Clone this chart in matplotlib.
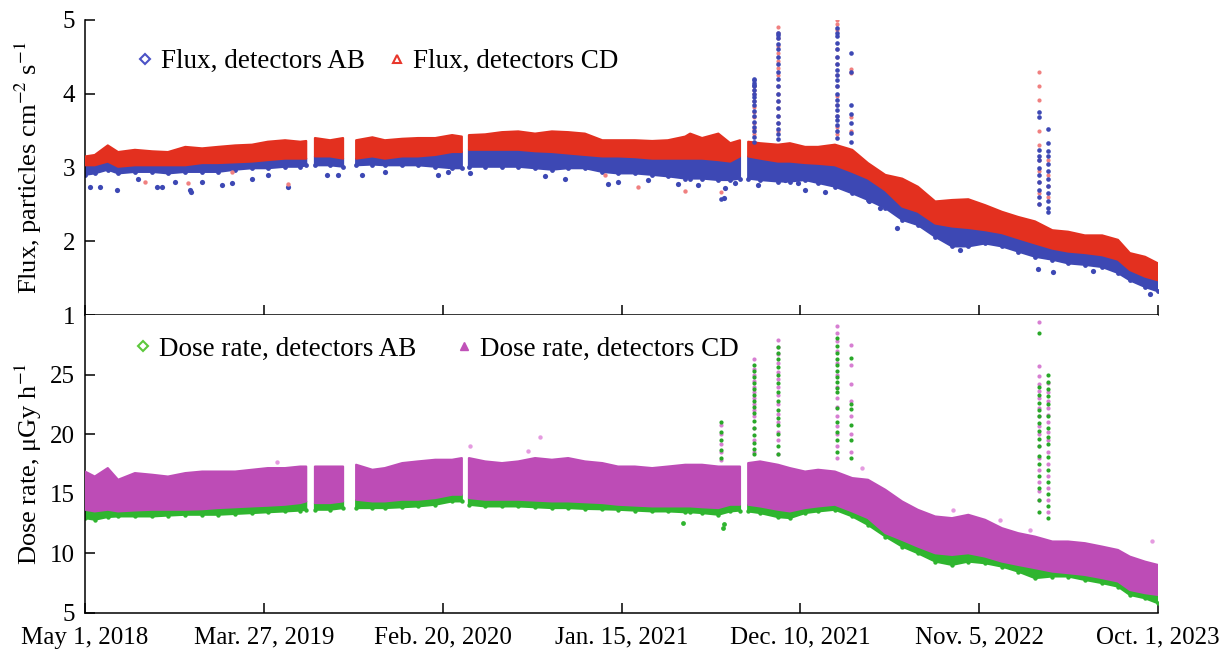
import numpy as np
import pandas as pd
import matplotlib
matplotlib.use('Agg')
import matplotlib.pyplot as plt
from matplotlib.lines import Line2D

plt.rcParams['font.family'] = ['Liberation Serif', 'DejaVu Serif']
plt.rcParams['mathtext.fontset'] = 'stix'

nan = np.nan
start = pd.Timestamp('2018-05-01')

# sample days since May 1, 2018 (nan rows = data gaps)
days = [0, 18, 42, 61, 92, 124, 153, 185, 216, 245,
        277, 308, 337, 369, 397, 408, 415, 424, 452, 476,
        487, 500, 530, 553, 585, 614, 646, 677, 695, 701,
        708, 738, 769, 799, 830, 861, 891, 922, 954, 983,
        1014, 1046, 1075, 1107, 1116, 1138, 1168, 1190, 1208, 1215,
        1223, 1245, 1278, 1300, 1328, 1352, 1383, 1415, 1444, 1476,
        1507, 1536, 1568, 1599, 1629, 1660, 1691, 1721, 1752, 1784,
        1813, 1844, 1876, 1905, 1927, 1955, 1979]

# flux, detectors CD: upper / lower envelope of the band
flux_cd_hi = [3.15, 3.17, 3.30, 3.21, 3.24, 3.22, 3.21, 3.28, 3.26, 3.28,
              3.30, 3.31, 3.35, 3.37, 3.35, 3.36, nan, 3.40, 3.37, 3.40,
              nan, 3.37, 3.41, 3.37, 3.39, 3.40, 3.40, 3.44, 3.42, nan,
              3.44, 3.45, 3.48, 3.49, 3.46, 3.49, 3.48, 3.46, 3.37, 3.37,
              3.37, 3.36, 3.37, 3.42, 3.46, 3.40, 3.46, 3.33, 3.37, nan,
              3.35, 3.33, 3.31, 3.33, 3.28, 3.28, 3.31, 3.24, 3.06, 2.90,
              2.85, 2.74, 2.54, 2.56, 2.57, 2.49, 2.40, 2.33, 2.27, 2.15,
              2.13, 2.08, 2.08, 2.02, 1.84, 1.79, 1.70]
flux_cd_lo = [3.03, 3.03, 3.08, 3.01, 3.03, 3.03, 3.03, 3.03, 3.06, 3.06,
              3.07, 3.08, 3.10, 3.12, 3.12, 3.12, nan, 3.15, 3.15, 3.12,
              nan, 3.12, 3.15, 3.12, 3.15, 3.15, 3.17, 3.21, 3.21, nan,
              3.24, 3.24, 3.24, 3.24, 3.22, 3.21, 3.19, 3.17, 3.15, 3.15,
              3.14, 3.12, 3.12, 3.12, 3.12, 3.12, 3.10, 3.08, 3.15, nan,
              3.15, 3.12, 3.08, 3.08, 3.06, 3.05, 3.03, 2.94, 2.85, 2.69,
              2.47, 2.40, 2.24, 2.20, 2.18, 2.15, 2.11, 2.04, 1.97, 1.90,
              1.86, 1.84, 1.81, 1.75, 1.61, 1.52, 1.47]
# flux, detectors AB: lower envelope of the dense band
flux_ab_lo = [2.90, 2.92, 2.97, 2.92, 2.94, 2.94, 2.92, 2.94, 2.94, 2.94,
              2.97, 2.99, 2.99, 3.01, 3.01, 3.03, nan, 3.03, 3.03, 3.01,
              nan, 3.03, 3.04, 3.03, 3.03, 3.03, 3.01, 2.99, 2.99, nan,
              3.01, 3.01, 3.01, 3.01, 2.99, 2.97, 2.99, 2.99, 2.94, 2.92,
              2.92, 2.90, 2.88, 2.85, 2.85, 2.85, 2.83, 2.83, 2.85, nan,
              2.85, 2.83, 2.81, 2.81, 2.83, 2.79, 2.74, 2.65, 2.56, 2.45,
              2.29, 2.22, 2.06, 1.93, 1.93, 1.97, 1.93, 1.86, 1.79, 1.75,
              1.70, 1.68, 1.65, 1.57, 1.47, 1.38, 1.32]

# dose rate, detectors CD (upper / lower) and AB (lower)
dose_cd_hi = [16.87, 16.45, 17.16, 16.18, 16.74, 16.60, 16.45, 16.74, 16.87, 16.87,
              16.87, 17.02, 17.16, 17.16, 17.29, 17.29, nan, 17.29, 17.29, 17.29,
              nan, 17.44, 17.02, 17.16, 17.58, 17.72, 17.86, 17.86, 18.00, nan,
              18.00, 17.72, 17.58, 17.72, 18.00, 17.86, 18.00, 17.72, 17.58, 17.29,
              17.29, 17.16, 17.29, 17.44, 17.44, 17.44, 17.29, 17.29, 17.29, nan,
              17.58, 17.72, 17.44, 17.16, 16.87, 17.02, 16.87, 16.32, 16.18, 15.34,
              14.36, 13.66, 13.10, 12.96, 13.24, 12.82, 12.12, 11.70, 11.41, 11.00,
              11.00, 10.86, 10.57, 10.29, 9.73, 9.31, 9.03]
dose_cd_lo = [13.66, 13.52, 13.66, 13.52, 13.60, 13.66, 13.66, 13.66, 13.70, 13.80,
              13.87, 13.94, 14.00, 14.08, 14.22, 14.36, nan, 14.22, 14.22, 14.36,
              nan, 14.50, 14.36, 14.36, 14.50, 14.50, 14.64, 14.92, 14.92, nan,
              14.64, 14.50, 14.50, 14.50, 14.43, 14.36, 14.36, 14.29, 14.22, 14.08,
              14.01, 13.94, 13.94, 13.94, 13.94, 13.87, 13.80, 14.08, 14.08, nan,
              14.08, 13.94, 13.66, 13.52, 13.80, 13.94, 14.08, 13.52, 12.96, 11.70,
              11.13, 10.57, 10.01, 9.87, 10.01, 9.73, 9.31, 9.03, 8.76, 8.47,
              8.34, 8.19, 7.92, 7.64, 6.93, 6.66, 6.51]
dose_ab_lo = [12.96, 12.82, 13.05, 13.10, 13.10, 13.10, 13.17, 13.24, 13.24, 13.24,
              13.31, 13.38, 13.45, 13.52, 13.59, 13.66, nan, 13.66, 13.66, 13.80,
              nan, 13.80, 13.80, 13.80, 13.87, 13.94, 14.08, 14.36, 14.36, nan,
              14.08, 13.94, 13.94, 13.94, 13.87, 13.80, 13.80, 13.73, 13.70, 13.66,
              13.59, 13.52, 13.52, 13.45, 13.45, 13.38, 13.24, 13.52, 13.59, nan,
              13.52, 13.38, 13.04, 12.96, 13.38, 13.52, 13.66, 13.10, 12.39, 11.41,
              10.57, 10.01, 9.31, 9.03, 9.31, 9.17, 8.89, 8.47, 7.92, 8.06,
              8.06, 7.77, 7.50, 7.21, 6.51, 6.23, 5.81]

# scattered single readings below / above the bands
flux_ab_out_days = [9, 28, 59, 98, 133, 142, 166, 194, 196, 216,
                    253, 271, 308, 338, 374, 446, 467, 511, 553, 651,
                    669, 710, 848, 885, 965, 983, 1038, 1094, 1131, 1179,
                    1181, 1199, 1241, 1291, 1315, 1328, 1365, 1445, 1466, 1498,
                    1614, 1758, 1785, 1859, 1964]
flux_ab_out_vals = [2.73, 2.73, 2.69, 2.85, 2.74, 2.74, 2.81, 2.69, 2.67, 2.81,
                    2.76, 2.79, 2.85, 2.90, 2.74, 2.90, 2.90, 2.90, 2.94, 2.90,
                    2.94, 2.92, 2.88, 2.85, 2.77, 2.81, 2.83, 2.77, 2.76, 2.58,
                    2.72, 2.79, 2.76, 2.83, 2.79, 2.70, 2.67, 2.54, 2.45, 2.18,
                    1.88, 1.63, 1.59, 1.60, 1.29]
flux_cd_out_days = [111, 190, 271, 374, 959, 1020, 1107]
flux_cd_out_vals = [2.81, 2.79, 2.94, 2.77, 2.90, 2.74, 2.68]
dose_cd_out_days = [354, 710, 817, 839, 1433, 1601, 1688, 1743, 1968]
dose_cd_out_vals = [17.7, 19.0, 18.55, 19.8, 17.16, 13.66, 12.8, 12.0, 11.0]
dose_ab_out_days = [1103, 1177, 1179]
dose_ab_out_vals = [12.56, 12.1, 12.5]

# solar particle events: dots along each spike
spike_days = [1173, 1234, 1278, 1387, 1413, 1760, 1776]
flux_ab_spikes = [[2.57],
                  [3.35, 3.42, 3.5, 3.55, 3.62, 3.7, 3.76, 3.85, 3.9, 3.95, 4.0,
                   4.05, 4.1, 4.12, 4.15, 4.18, 4.2],
                  [4.83, 4.8, 4.75, 4.68, 4.6, 4.5, 4.4, 4.3, 4.2, 4.1, 4.0, 3.9,
                   3.8, 3.7, 3.6, 3.52, 3.45, 3.38],
                  [4.89, 4.82, 4.78, 4.69, 4.6, 4.5, 4.41, 4.32, 4.25, 4.19, 4.1,
                   4.0, 3.92, 3.85, 3.78, 3.7, 3.64, 3.57, 3.5, 3.4],
                  [4.55, 4.3, 3.85, 3.72, 3.6, 3.47, 3.35],
                  [3.75, 3.68, 3.24, 3.15, 3.1, 3.0, 2.9, 2.8, 2.7, 2.6, 2.5],
                  [3.52, 3.33, 3.22, 3.15, 3.05, 2.95, 2.85, 2.75, 2.65, 2.55, 2.45, 2.4]]
flux_cd_spikes = [[2.67],
                  [3.45, 3.52, 3.6, 3.68, 3.75, 3.82, 3.9, 4.0, 4.05, 4.1],
                  [4.9, 4.83, 4.75, 4.65, 4.55, 4.45, 4.35, 4.25, 4.1, 4.0, 3.9,
                   3.8, 3.7, 3.6, 3.5],
                  [5.0, 4.95, 4.87, 4.6, 4.5, 4.4, 4.25, 4.1, 3.97, 3.85, 3.7,
                   3.55, 3.45],
                  [4.33, 4.28, 3.68, 3.5],
                  [4.3, 4.1, 3.92, 3.5, 3.3, 3.1, 2.95, 2.8, 2.65, 2.5],
                  [3.1, 2.9, 2.75, 2.6]]
dose_ab_spikes = [[21.0, 20.2, 19.5, 18.7, 18.0],
                  [25.8, 25.3, 24.8, 24.3, 23.8, 23.3, 22.8, 22.3, 21.8, 21.1,
                   20.5, 19.9, 19.3, 18.8, 18.3],
                  [27.3, 26.8, 26.3, 25.6, 25.0, 24.3, 23.5, 22.8, 22.0, 21.4,
                   20.8, 20.0, 19.0, 18.3],
                  [28.1, 27.4, 26.8, 26.3, 25.8, 25.3, 24.8, 24.4, 23.9, 23.5,
                   22.2, 21.0, 20.2, 19.5, 18.5],
                  [26.4, 22.5, 22.1, 20.8, 19.5, 18.0],
                  [28.5, 24.0, 23.3, 22.6, 22.0, 21.5, 20.9, 20.3, 19.6, 19.0,
                   18.2, 17.5, 16.5, 15.5, 14.5, 13.5],
                  [25.0, 24.4, 23.8, 23.2, 22.5, 21.5, 20.5, 19.8, 19.2, 18.1,
                   17.0, 16.0, 15.0, 14.0, 13.0]]
dose_cd_spikes = [[20.8, 20.0, 19.2, 18.5, 17.8],
                  [26.3, 25.5, 25.0, 24.5, 24.0, 23.5, 23.0, 22.5, 22.0, 21.5,
                   20.5, 19.5, 18.5],
                  [27.9, 27.3, 26.7, 26.0, 25.2, 24.6, 24.0, 23.3, 22.5, 21.7,
                   21.0, 20.2, 19.5, 18.3],
                  [29.1, 28.5, 27.8, 27.0, 26.0, 25.0, 24.0, 23.0, 22.3, 21.5,
                   20.7, 20.0, 19.0, 18.0],
                  [27.5, 25.8, 24.2, 22.8, 21.5, 20.0, 18.5],
                  [29.4, 25.7, 24.9, 24.2, 23.6, 23.0, 22.2, 21.5, 20.7, 20.0,
                   19.0, 18.0, 17.0, 16.0, 15.2, 14.5],
                  [24.3, 23.5, 22.8, 22.2, 21.6, 21.0, 20.2, 19.5, 18.5, 17.5,
                   16.5, 15.5, 14.5, 13.5]]

tick_dates = ['2018-05-01', '2019-03-27', '2020-02-20', '2021-01-15',
              '2021-12-10', '2022-11-05', '2023-10-01']
tick_labels = ['May 1, 2018', 'Mar. 27, 2019', 'Feb. 20, 2020', 'Jan. 15, 2021',
               'Dec. 10, 2021', 'Nov. 5, 2022', 'Oct. 1, 2023']

BLUE = '#3d48b4'
RED = '#e3301f'
PINK = '#f08080'
GREEN = '#2fb52f'
MAGENTA = '#bd4cb6'


def to_dates(d):
    return start + pd.to_timedelta(np.asarray(d, dtype=float), unit='D')


def draw_spikes(ax, sp_days, sp_vals, color, size):
    for d, vals in zip(sp_days, sp_vals):
        ax.scatter(to_dates([d] * len(vals)), vals, s=size, color=color,
                   linewidths=0, zorder=5)


x = to_dates(days)

fig = plt.figure(figsize=(12.32, 6.49), dpi=100)
ax1 = fig.add_axes([0.069, 0.5146, 0.871, 0.4546])
ax2 = fig.add_axes([0.069, 0.0555, 0.871, 0.4591])

# --- flux panel ---
ax1.fill_between(x, flux_ab_lo, flux_cd_lo, color=BLUE, lw=1.5, zorder=2)
ax1.scatter(x, flux_ab_lo, s=12, color=BLUE, linewidths=0, zorder=2)
ax1.scatter(to_dates(flux_ab_out_days), flux_ab_out_vals, s=14, color=BLUE,
            linewidths=0, zorder=2)
ax1.fill_between(x, flux_cd_lo, flux_cd_hi, color=RED, lw=1.5, zorder=3)
ax1.scatter(to_dates(flux_cd_out_days), flux_cd_out_vals, s=10, color=PINK,
            linewidths=0, zorder=3)
draw_spikes(ax1, spike_days, flux_cd_spikes, PINK, 9)
draw_spikes(ax1, spike_days, flux_ab_spikes, BLUE, 11)

# --- dose panel ---
ax2.fill_between(x, dose_ab_lo, dose_cd_lo, color=GREEN, lw=1.5, zorder=2)
ax2.scatter(x, dose_ab_lo, s=10, color=GREEN, linewidths=0, zorder=2)
ax2.scatter(to_dates(dose_ab_out_days), dose_ab_out_vals, s=12, color=GREEN,
            linewidths=0, zorder=2)
ax2.fill_between(x, dose_cd_lo, dose_cd_hi, color=MAGENTA, lw=1.5, zorder=3)
ax2.scatter(to_dates(dose_cd_out_days), dose_cd_out_vals, s=10, color='#e59be0',
            linewidths=0, zorder=3)
draw_spikes(ax2, spike_days, dose_cd_spikes, '#d77fd2', 9)
draw_spikes(ax2, spike_days, dose_ab_spikes, '#29a829', 9)

xlim = (pd.Timestamp(tick_dates[0]), pd.Timestamp(tick_dates[-1]))
for ax in (ax1, ax2):
    ax.set_xlim(xlim)
    ax.set_xticks(pd.to_datetime(tick_dates))
    ax.spines['right'].set_visible(False)
    ax.spines['top'].set_visible(False)
    for s in ('left', 'bottom'):
        ax.spines[s].set_linewidth(1.1)
    ax.tick_params(direction='in', length=7, width=1.1, labelsize=18, pad=7)
ax2.tick_params(axis='x', pad=10)

ax1.set_xticklabels([])
ax2.set_xticklabels(tick_labels)

ax1.set_ylim(1, 5)
ax1.set_yticks([1, 2, 3, 4, 5])
ax2.set_ylim(5, 30)
ax2.set_yticks([5, 10, 15, 20, 25])

ax1.set_ylabel('Flux, particles cm$^{-2}$ s$^{-1}$', fontsize=19)
ax2.set_ylabel('Dose rate, μGy h$^{-1}$', fontsize=19)
ax1.yaxis.set_label_coords(-0.038, 0.5)
ax2.yaxis.set_label_coords(-0.038, 0.5)

h1 = [Line2D([], [], ls='none', marker='D', ms=5, mfc='none', mec='#4b52c6', mew=1.5),
      Line2D([], [], ls='none', marker='^', ms=6, mfc='none', mec='#e8372c', mew=1.5)]
ax1.legend(h1, ['Flux, detectors AB', 'Flux, detectors CD'], ncol=2, frameon=False,
           fontsize=19.5, loc='center left', bbox_to_anchor=(0.046, 0.858),
           borderpad=0, borderaxespad=0, handlelength=0.8, handletextpad=0.2,
           columnspacing=0.75)

h2 = [Line2D([], [], ls='none', marker='D', ms=5, mfc='none', mec='#5cc83c', mew=1.5),
      Line2D([], [], ls='none', marker='^', ms=6, mfc='#c052b8', mec='#c052b8', mew=1)]
ax2.legend(h2, ['Dose rate, detectors AB', 'Dose rate, detectors CD'], ncol=2,
           frameon=False, fontsize=19.5, loc='center left',
           bbox_to_anchor=(0.044, 0.886), borderpad=0, borderaxespad=0,
           handlelength=0.8, handletextpad=0.2, columnspacing=1.33)

fig.savefig('out.png', dpi=100)
